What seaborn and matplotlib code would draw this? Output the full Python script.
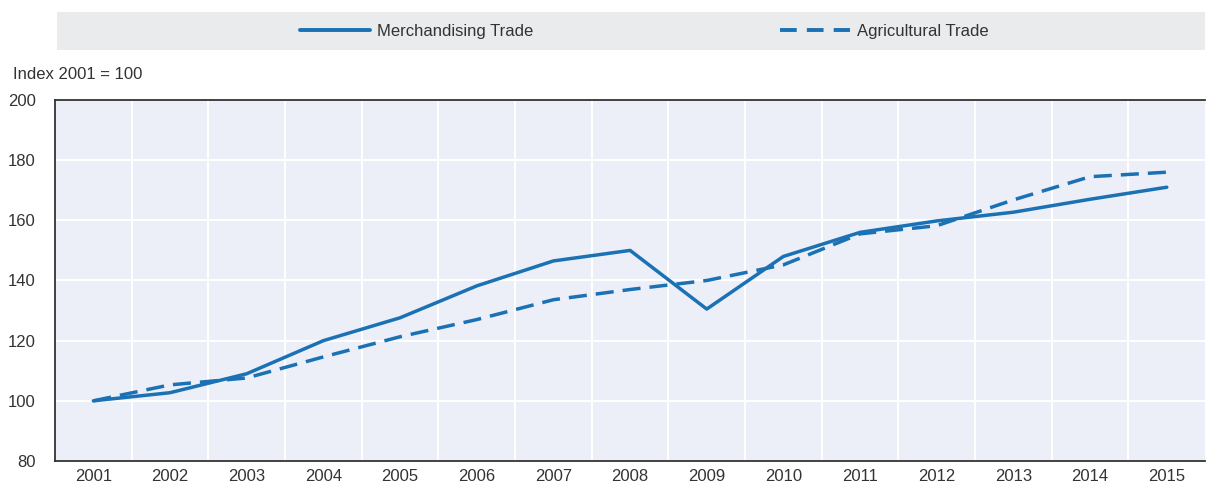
import pandas as pd
import numpy as np
import seaborn as sns
import matplotlib.pyplot as plt
from matplotlib.patches import Rectangle

sns.set_theme(style='white')
plt.rcParams['font.family'] = ['Liberation Sans Narrow', 'Liberation Sans', 'DejaVu Sans']

years = [str(y) for y in range(2001, 2016)]
merchandising = [100, 102.7, 109, 120, 127.6, 138.2, 146.5, 150, 130.5, 148, 156, 159.8, 162.7, 167, 171]
agricultural = [100, 105.3, 107.6, 114.6, 121.3, 127, 133.6, 137, 140, 145.2, 155.5, 158.2, 166.8, 174.5, 176]
series_names = ['Merchandising Trade', 'Agricultural Trade']

df = pd.DataFrame({
    'year': years * 2,
    'value': merchandising + agricultural,
    'series': [series_names[0]] * len(years) + [series_names[1]] * len(years),
})

line_color = '#1A71B3'
text_color = '#333333'

fig = plt.figure(figsize=(12.09, 4.87), dpi=100)
ax = fig.add_axes([0.0455, 0.0534, 0.9513, 0.7413])
ax.set_facecolor('#ECEFF8')

sns.lineplot(data=df, x='year', y='value', style='series', style_order=series_names,
             dashes={series_names[0]: '', series_names[1]: (5.2, 2.6)},
             color=line_color, linewidth=2.5, ax=ax, legend=False)

ax.set_xlim(-0.5, len(years) - 0.5)
ax.set_ylim(80, 200)
ax.set_yticks(np.arange(80, 201, 20))
ax.set_xticks(range(len(years)))
ax.set_xticklabels(years)
ax.set_xticks(np.arange(0.5, len(years) - 0.5, 1), minor=True)

ax.grid(False)
ax.yaxis.grid(True, color='white', linewidth=1.5)
ax.xaxis.grid(True, which='minor', color='white', linewidth=1.5)
ax.set_axisbelow(True)

for side in ['left', 'bottom', 'top']:
    ax.spines[side].set_color('#333333')
    ax.spines[side].set_linewidth(1.3)
ax.spines['right'].set_visible(False)

ax.tick_params(axis='x', which='major', length=0, pad=6, labelsize=12, colors=text_color)
ax.tick_params(axis='x', which='minor', direction='in', length=5, width=1.2, color='#333333')
ax.tick_params(axis='y', length=0, pad=14, labelsize=12, colors=text_color)
ax.set_xlabel(None)
ax.set_ylabel(None)

fig.text(0.011, 0.847, 'Index 2001 = 100', fontsize=12, color=text_color, va='center')

# legend band
fig.patches.append(Rectangle((0.047, 0.897), 0.95, 0.078, transform=fig.transFigure,
                             facecolor='#EAEBED', edgecolor='none', zorder=0))
handles = [plt.Line2D([], [], color=line_color, linewidth=2.8, solid_capstyle='round'),
           plt.Line2D([], [], color=line_color, linewidth=2.8, dashes=(4.3, 2.6))]
fig.legend(handles, series_names, loc='center', bbox_to_anchor=(0.533, 0.936), ncol=2,
           frameon=False, fontsize=12, handlelength=4.2, columnspacing=14.8, handletextpad=0.4,
           labelcolor=text_color)

plt.savefig('out.png', dpi=100)
